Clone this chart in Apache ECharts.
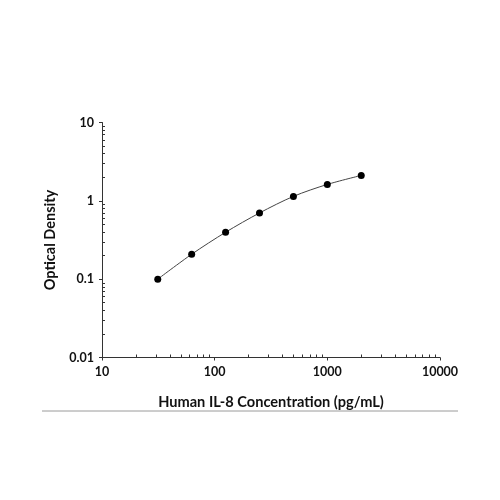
<!DOCTYPE html>
<html lang="en">

<head>
  <meta charset="UTF-8">
  <title>Human IL-8 standard curve</title>
  <script src="https://cdn.jsdelivr.net/npm/echarts@6.0.0/dist/echarts.min.js"></script>
  <style>
    html, body {
      margin: 0;
      padding: 0;
      background: #fff;
    }

    #chart {
      width: 500px;
      height: 500px;
    }
  </style>
</head>

<body>
  <div id="chart"></div>

  <script>
    // standard curve
    const concentration = [31.25, 62.5, 125, 250, 500, 1000, 2000]
    const opticalDensity = [0.10, 0.208, 0.397, 0.70, 1.14, 1.62, 2.11]

    const xDecades = [10, 100, 1000, 10000]
    const yDecades = [0.01, 0.1, 1, 10]

    // 2..9 inside every decade, for the small inward ticks
    function minorTicks(decades) {
      let out = []
      for (let i = 0; i < decades.length - 1; i++) {
        for (let k = 2; k <= 9; k++) {
          out.push(+(decades[i] * k).toPrecision(6))
        }
      }
      return out
    }

    const font = 'Lato'
    const axisColor = '#333'

    const myChart = echarts.init(document.getElementById('chart'))
    const option = {
      animation: false,
      grid: {
        left: 102,
        right: 60,
        top: 122.5,
        bottom: 142.5
      },
      xAxis: [{
          type: 'log',
          logBase: 10,
          min: 10,
          max: 10000,
          position: 'bottom',
          name: 'Human IL-8 Concentration (pg/mL)',
          nameLocation: 'middle',
          nameGap: 37,
          nameTextStyle: {
            fontFamily: font,
            fontWeight: 'bold',
            fontSize: 14.6,
            color: '#111'
          },
          axisLine: {
            lineStyle: { color: axisColor, width: 1 }
          },
          axisTick: {
            inside: false,
            length: 3,
            customValues: xDecades,
            lineStyle: { color: axisColor }
          },
          axisLabel: {
            margin: 8,
            customValues: xDecades,
            fontFamily: font,
            fontWeight: 'bold',
            fontSize: 12.5,
            color: '#111',
            formatter: v => String(v)
          },
          splitLine: { show: false }
        },
        {
          type: 'log',
          logBase: 10,
          min: 10,
          max: 10000,
          position: 'bottom',
          axisLine: { show: false },
          axisTick: {
            inside: true,
            length: 3,
            customValues: minorTicks(xDecades),
            lineStyle: { color: axisColor }
          },
          axisLabel: { show: false },
          splitLine: { show: false }
        }
      ],
      yAxis: [{
          type: 'log',
          logBase: 10,
          min: 0.01,
          max: 10,
          position: 'left',
          name: 'Optical Density',
          nameLocation: 'middle',
          nameGap: 44,
          nameTextStyle: {
            fontFamily: font,
            fontWeight: 'bold',
            fontSize: 14.5,
            color: '#111'
          },
          axisLine: {
            show: true,
            lineStyle: { color: axisColor, width: 1 }
          },
          axisTick: {
            show: true,
            inside: false,
            length: 3,
            customValues: yDecades,
            lineStyle: { color: axisColor }
          },
          axisLabel: {
            margin: 8,
            customValues: yDecades,
            fontFamily: font,
            fontWeight: 'bold',
            fontSize: 12.5,
            color: '#111',
            formatter: v => String(v)
          },
          splitLine: { show: false }
        },
        {
          type: 'log',
          logBase: 10,
          min: 0.01,
          max: 10,
          position: 'left',
          axisLine: { show: false },
          axisTick: {
            show: true,
            inside: true,
            length: 3,
            customValues: minorTicks(yDecades),
            lineStyle: { color: axisColor }
          },
          axisLabel: { show: false },
          splitLine: { show: false }
        }
      ],
      series: [{
        type: 'line',
        data: concentration.map((c, i) => [c, opticalDensity[i]]),
        smooth: 0.3,
        symbol: 'circle',
        symbolSize: 7,
        itemStyle: { color: '#000' },
        lineStyle: { color: '#444', width: 1 }
      }],
      graphic: [{
        type: 'line',
        shape: { x1: 42, y1: 411, x2: 458, y2: 411 },
        style: { stroke: '#9a9a9a', lineWidth: 1 }
      }]
    }
    myChart.setOption(option)
  </script>
</body>

</html>
